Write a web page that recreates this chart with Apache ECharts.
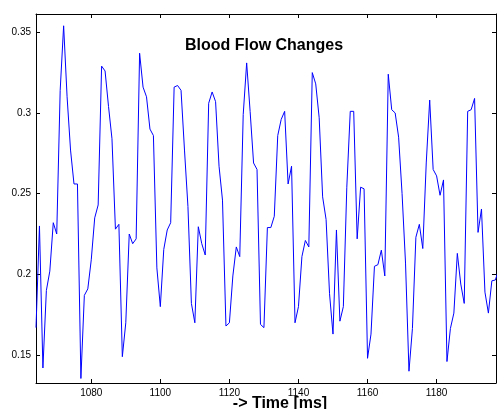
<!DOCTYPE html>
<html>
<head>
<meta charset="utf-8">
<script src="https://cdn.jsdelivr.net/npm/echarts@6/dist/echarts.min.js"></script>
<style>
  html, body { margin: 0; padding: 0; background: #fff; }
  #chart { width: 497px; height: 409px; }
</style>
</head>
<body>
<div id="chart"></div>
<script>
// time stamps in ms (one sample per ms)
const timeMs = [
  1064, 1065, 1066, 1067, 1068, 1069, 1070, 1071, 1072, 1073,
  1074, 1075, 1076, 1077, 1078, 1079, 1080, 1081, 1082, 1083,
  1084, 1085, 1086, 1087, 1088, 1089, 1090, 1091, 1092, 1093,
  1094, 1095, 1096, 1097, 1098, 1099, 1100, 1101, 1102, 1103,
  1104, 1105, 1106, 1107, 1108, 1109, 1110, 1111, 1112, 1113,
  1114, 1115, 1116, 1117, 1118, 1119, 1120, 1121, 1122, 1123,
  1124, 1125, 1126, 1127, 1128, 1129, 1130, 1131, 1132, 1133,
  1134, 1135, 1136, 1137, 1138, 1139, 1140, 1141, 1142, 1143,
  1144, 1145, 1146, 1147, 1148, 1149, 1150, 1151, 1152, 1153,
  1154, 1155, 1156, 1157, 1158, 1159, 1160, 1161, 1162, 1163,
  1164, 1165, 1166, 1167, 1168, 1169, 1170, 1171, 1172, 1173,
  1174, 1175, 1176, 1177, 1178, 1179, 1180, 1181, 1182, 1183,
  1184, 1185, 1186, 1187, 1188, 1189, 1190, 1191, 1192, 1193,
  1194, 1195, 1196, 1197, 1198
]

const bloodFlow = [
  0.167, 0.230, 0.142, 0.190, 0.202, 0.232, 0.225, 0.314, 0.354, 0.310,
  0.277, 0.256, 0.256, 0.1355, 0.187, 0.191, 0.209, 0.235, 0.243, 0.329,
  0.326, 0.304, 0.284, 0.228, 0.231, 0.149, 0.170, 0.225, 0.219, 0.222,
  0.337, 0.316, 0.310, 0.290, 0.286, 0.204, 0.180, 0.2155, 0.2275, 0.232,
  0.316, 0.317, 0.314, 0.277, 0.242, 0.182, 0.170, 0.2295, 0.219, 0.212,
  0.306, 0.313, 0.307, 0.267, 0.246, 0.168, 0.170, 0.199, 0.217, 0.211,
  0.299, 0.331, 0.301, 0.269, 0.265, 0.169, 0.167, 0.229, 0.229, 0.236,
  0.286, 0.296, 0.301, 0.256, 0.267, 0.170, 0.180, 0.211, 0.221, 0.217,
  0.325, 0.318, 0.297, 0.248, 0.234, 0.188, 0.163, 0.2275, 0.171, 0.180,
  0.254, 0.301, 0.301, 0.222, 0.254, 0.253, 0.148, 0.163, 0.205, 0.206,
  0.215, 0.199, 0.324, 0.302, 0.300, 0.285, 0.250, 0.207, 0.140, 0.1665,
  0.223, 0.231, 0.216, 0.269, 0.308, 0.265, 0.261, 0.249, 0.2585, 0.146,
  0.1665, 0.176, 0.213, 0.194, 0.182, 0.301, 0.302, 0.309, 0.226, 0.2405,
  0.189, 0.176, 0.196, 0.1965, 0.203
]

const chartTitle = "Blood Flow Changes"
const xLabel = "-> Time [ms]"

const X_MIN = 1064, X_MAX = 1197.2
const Y_MIN = 0.1327, Y_MAX = 0.3613
const FONT = "Liberation Sans, Arial, Helvetica, sans-serif"

const axisLine = { show: true, onZero: false, lineStyle: { color: "#000", width: 1 } }
const axisTick = { show: true, inside: true, length: 4, lineStyle: { color: "#000" } }
const labelBase = {
  color: "#000", fontSize: 10, fontFamily: FONT, margin: 5,
  showMinLabel: false, showMaxLabel: false,
}

const chart = echarts.init(document.getElementById("chart"))
chart.setOption({
  animation: false,
  title: [
    {
      text: chartTitle, left: 259, top: 33, textAlign: "center",
      textStyle: { fontSize: 16, fontWeight: "bold", color: "#000", fontFamily: FONT },
    },
    {
      text: xLabel, left: 275, top: 391, textAlign: "center",
      textStyle: { fontSize: 16, fontWeight: "bold", color: "#000", fontFamily: FONT },
    },
  ],
  grid: { left: 36, right: 1, top: 14, bottom: 26, containLabel: false },
  xAxis: [
    {
      type: "value", position: "bottom", min: X_MIN, max: X_MAX, splitNumber: 7,
      axisLine, axisTick, splitLine: { show: false },
      axisLabel: { ...labelBase, formatter: (v) => String(v) },
    },
    {
      type: "value", position: "top", min: X_MIN, max: X_MAX, splitNumber: 7,
      axisLine, axisTick, axisLabel: { show: false }, splitLine: { show: false },
    },
  ],
  yAxis: [
    {
      type: "value", position: "left", min: Y_MIN, max: Y_MAX, splitNumber: 5,
      axisLine, axisTick, splitLine: { show: false },
      axisLabel: { ...labelBase, formatter: (v) => String(+v.toFixed(4)) },
    },
    {
      type: "value", position: "right", min: Y_MIN, max: Y_MAX, splitNumber: 5,
      axisLine, axisTick, axisLabel: { show: false }, splitLine: { show: false },
    },
  ],
  series: [
    {
      type: "line",
      xAxisIndex: 0,
      yAxisIndex: 0,
      data: timeMs.map((t, i) => [t, bloodFlow[i]]),
      showSymbol: false,
      clip: true,
      lineStyle: { color: "#0000ff", width: 1 },
    },
  ],
})
</script>
</body>
</html>
